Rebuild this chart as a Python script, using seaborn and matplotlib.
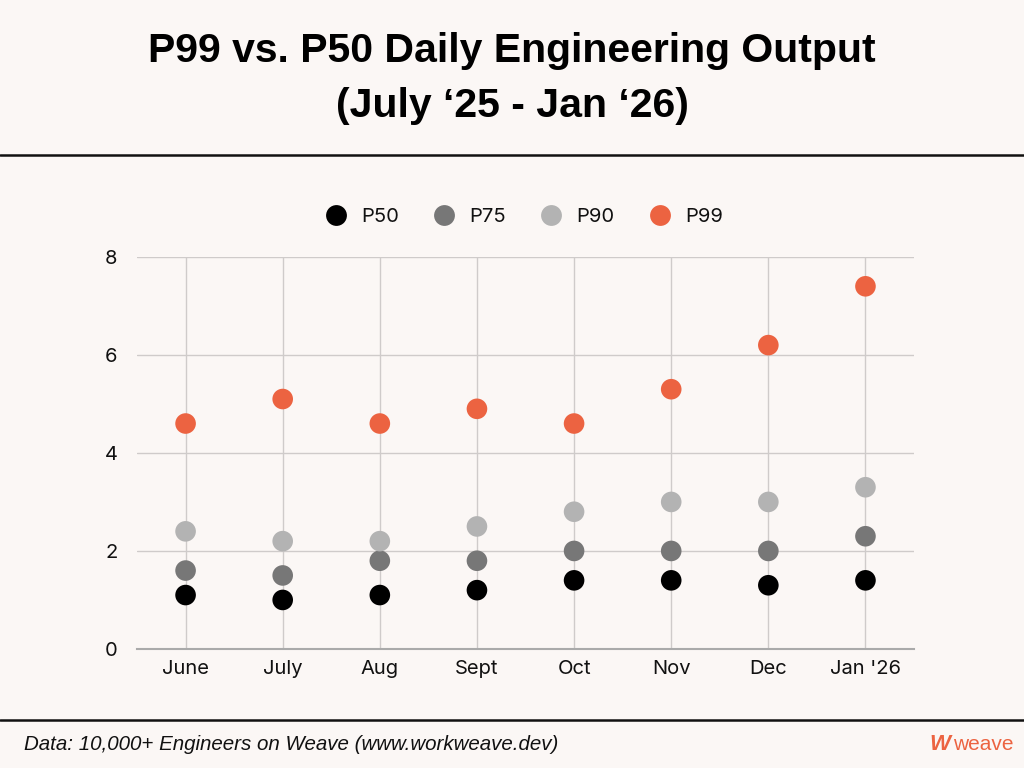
import matplotlib.pyplot as plt
import matplotlib.lines as mlines
import seaborn as sns
import pandas as pd

months = ['June', 'July', 'Aug', 'Sept', 'Oct', 'Nov', 'Dec', "Jan '26"]
p50 = [1.1, 1.0, 1.1, 1.2, 1.4, 1.4, 1.3, 1.4]
p75 = [1.6, 1.5, 1.8, 1.8, 2.0, 2.0, 2.0, 2.3]
p90 = [2.4, 2.2, 2.2, 2.5, 2.8, 3.0, 3.0, 3.3]
p99 = [4.6, 5.1, 4.6, 4.9, 4.6, 5.3, 6.2, 7.4]
series = ['P50', 'P75', 'P90', 'P99']
colors = ['#000000', '#777777', '#b3b3b3', '#ec6341']

BG = '#fbf7f5'

# long-form table for seaborn
df = pd.DataFrame({
    'Month': months * 4,
    'Value': p50 + p75 + p90 + p99,
    'Series': [s for s in series for _ in months],
})

sns.set_theme(style='white')
plt.rcParams['font.family'] = ['Inter', 'DejaVu Sans']

fig = plt.figure(figsize=(10.24, 7.68), dpi=100, facecolor=BG)
ax = fig.add_axes([0.1338, 0.155, 0.7588, 0.5105], facecolor=BG)

sns.scatterplot(data=df, x='Month', y='Value', hue='Series', hue_order=series,
                palette=dict(zip(series, colors)), s=220, linewidth=0,
                legend=False, ax=ax, zorder=3)

ax.set_xlim(-0.5, len(months) - 0.5)
ax.set_ylim(0, 8)
ax.set_yticks([0, 2, 4, 6, 8])
ax.set_xlabel('')
ax.set_ylabel('')
ax.grid(True, color='#cfcbca', linewidth=1, zorder=0)
ax.set_axisbelow(True)
for side in ['top', 'right', 'left']:
    ax.spines[side].set_visible(False)
ax.spines['bottom'].set_color('#aaaaaa')
ax.spines['bottom'].set_linewidth(1.5)
ax.tick_params(axis='both', length=0, labelsize=14.5, labelcolor='#111111')
ax.tick_params(axis='x', pad=8)
ax.tick_params(axis='y', pad=14)

handles = [mlines.Line2D([], [], marker='o', linestyle='', markersize=15,
                         markerfacecolor=c, markeredgewidth=0, label=s)
           for s, c in zip(series, colors)]
fig.legend(handles=handles, loc='center', bbox_to_anchor=(0.507, 0.717), ncol=4,
           frameon=False, fontsize=14.5, handletextpad=0.25, columnspacing=1.25,
           labelcolor='#111111')

title_font = ['Liberation Sans', 'DejaVu Sans']
fig.text(0.5, 0.933, 'P99 vs. P50 Daily Engineering Output', ha='center', va='center',
         fontsize=29.5, fontweight='bold', family=title_font, color='black')
fig.text(0.5, 0.862, '(July \u201825 - Jan \u201826)', ha='center', va='center',
         fontsize=29.5, fontweight='bold', family=title_font, color='black')

fig.add_artist(mlines.Line2D([0, 1], [0.798, 0.798], color='#111111', linewidth=1.8))
fig.add_artist(mlines.Line2D([0, 1], [0.0625, 0.0625], color='#111111', linewidth=1.8))

fig.text(0.023, 0.031, 'Data: 10,000+ Engineers on Weave (www.workweave.dev)', ha='left',
         va='center', fontsize=14.8, style='italic', family=title_font, color='#111111')
fig.text(0.99, 0.031, 'weave', ha='right', va='center', fontsize=15,
         family=title_font, color='#ec6341')
fig.text(0.928, 0.031, 'W', ha='right', va='center', fontsize=16, fontweight='bold',
         style='italic', family=title_font, color='#ec6341')

fig.savefig('out.png', dpi=100, facecolor=BG)
